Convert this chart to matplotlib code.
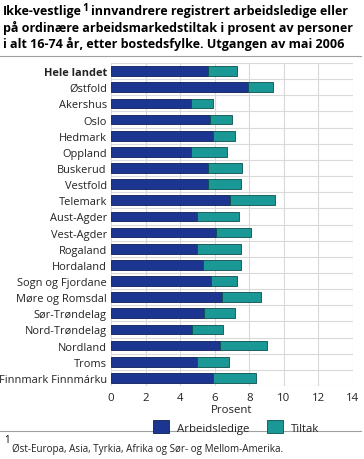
import numpy as np
import matplotlib.pyplot as plt
from matplotlib.patches import Patch
from matplotlib.lines import Line2D

plt.rcParams['font.family'] = ['Open Sans', 'DejaVu Sans']

# data (percent)
fylker = ['Hele landet', 'Østfold', 'Akershus', 'Oslo', 'Hedmark', 'Oppland',
          'Buskerud', 'Vestfold', 'Telemark', 'Aust-Agder', 'Vest-Agder',
          'Rogaland', 'Hordaland', 'Sogn og Fjordane', 'Møre og Romsdal',
          'Sør-Trøndelag', 'Nord-Trøndelag', 'Nordland', 'Troms',
          'Finnmark Finnmárku']
arbeidsledige = [5.6, 7.9, 4.6, 5.7, 5.9, 4.6, 5.6, 5.6, 6.9, 5.0, 6.1,
                 5.0, 5.3, 5.8, 6.4, 5.4, 4.7, 6.3, 5.0, 5.9]
totalt = [7.3, 9.4, 5.9, 7.0, 7.2, 6.7, 7.6, 7.5, 9.5, 7.4, 8.1,
          7.5, 7.5, 7.3, 8.7, 7.2, 6.5, 9.0, 6.8, 8.4]
tiltak = [t - a for t, a in zip(totalt, arbeidsledige)]
xticks = [0, 2, 4, 6, 8, 10, 12, 14]

dark = '#1b3590'
teal = '#1a9896'
W, H = 364, 460

fig = plt.figure(figsize=(3.64, 4.60), dpi=100)
ax = fig.add_axes([111/W, 1 - 387/H, 242/W, 323/H])

y = np.arange(len(fylker))
ax.barh(y, arbeidsledige, height=0.6, color=dark, edgecolor='#0e1d55', linewidth=0.6, zorder=3)
ax.barh(y, tiltak, left=arbeidsledige, height=0.6, color=teal, edgecolor='#0d4f4d', linewidth=0.6, zorder=3)

ax.set_ylim(len(fylker) - 0.5, -0.5)
ax.set_xlim(0, 14)
ax.set_xticks(xticks)
ax.set_yticks(y)
ax.set_yticklabels(fylker, fontsize=7.9, color='#222222')
ax.get_yticklabels()[0].set_fontweight('bold')
ax.tick_params(axis='x', labelsize=8.2, length=0, pad=4, colors='#222222')
ax.tick_params(axis='y', length=0, pad=3)

# grid: vertical at ticks, horizontal between rows
for xv in xticks:
    ax.axvline(xv, color='#d9d9d9', lw=0.8, zorder=1)
for yv in np.arange(-0.5, len(fylker), 1.0):
    ax.axhline(yv, color='#d9d9d9', lw=0.8, zorder=1)
for s in ax.spines.values():
    s.set_visible(False)

ax.set_xlabel('Prosent', fontsize=8.2, labelpad=1, color='#222222')

handles = [Patch(facecolor=dark, edgecolor='#0e1d55', lw=0.6),
           Patch(facecolor=teal, edgecolor='#0d4f4d', lw=0.6)]
fig.legend(handles, ['Arbeidsledige', 'Tiltak'], loc='center',
           bbox_to_anchor=(236/W, 1 - 428/H), ncol=2, frameon=False,
           fontsize=8.2, handlelength=1.4, handleheight=1.4, columnspacing=1.6,
           handletextpad=0.7, labelcolor='#222222')

# title, with superscript footnote mark after the first word
fs = 9.0
t1 = fig.text(3/W, 1 - 5/H, 'Ikke-vestlige', fontsize=fs, fontweight='bold', va='top', ha='left')
fig.canvas.draw()
bb = t1.get_window_extent()
sup = fig.text((bb.x1 + 0.5) / W, 1 - 3/H, '1', fontsize=7.5, fontweight='bold', va='top', ha='left')
fig.canvas.draw()
bb2 = sup.get_window_extent()
fig.text((bb2.x1 + 3) / W, 1 - 5/H, 'innvandrere registrert arbeidsledige eller',
         fontsize=fs, fontweight='bold', va='top', ha='left')
fig.text(3/W, 1 - 21/H, 'på ordinære arbeidsmarkedstiltak i prosent av personer',
         fontsize=fs, fontweight='bold', va='top', ha='left')
fig.text(3/W, 1 - 37/H, 'i alt 16-74 år, etter bostedsfylke. Utgangen av mai 2006',
         fontsize=fs, fontweight='bold', va='top', ha='left')

fig.add_artist(Line2D([0, 361/W], [1 - 57/H, 1 - 57/H], color='#a0a0a0', lw=0.8))
fig.add_artist(Line2D([0, 361/W], [1 - 432/H, 1 - 432/H], color='#a0a0a0', lw=0.8))

# footnote
fig.text(4/W, 1 - 435/H, '1', fontsize=7, va='top', ha='left')
fig.text(12/W, 1 - 449/H, 'Øst-Europa, Asia, Tyrkia, Afrika og Sør- og Mellom-Amerika.',
         fontsize=7.1, va='center', ha='left', color='#222222')

fig.savefig('out.png', dpi=100)
